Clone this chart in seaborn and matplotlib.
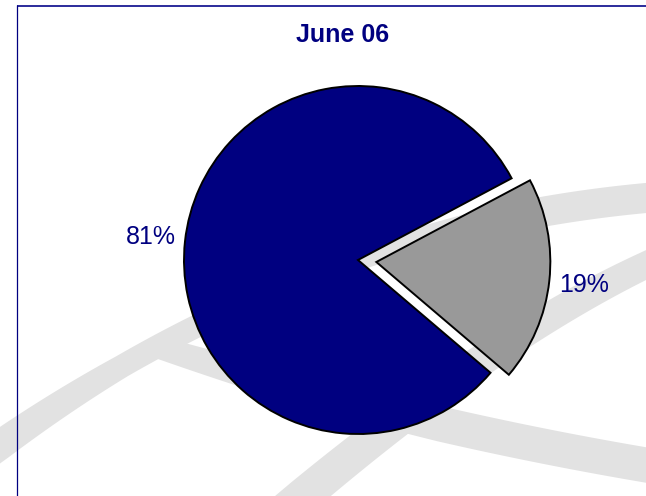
import numpy as np
import matplotlib
matplotlib.use("Agg")
import matplotlib.pyplot as plt
import seaborn as sns
from matplotlib.patches import Polygon

# ---- data ----
title = "June 06"
categories = ["Series 1", "Series 2"]
shares = [81, 19]
slice_colors = ["#000080", "#999999"]
explode = [0, 0.106]

sns.set_theme(style="white")
plt.rcParams["font.family"] = ["Liberation Sans", "DejaVu Sans"]

W, H = 646, 496
fig = plt.figure(figsize=(W / 100, H / 100), dpi=100, facecolor="white")

# ---- decorative background (watermark bands + frame), pixel coordinates ----
bg = fig.add_axes([0, 0, 1, 1], zorder=0)
bg.set_xlim(0, W)
bg.set_ylim(H, 0)
bg.axis("off")
band_color = "#e2e2e2"


def band(p0, p1, p2, t0, t1, wt, wv):
    p0, p1, p2 = map(np.asarray, (p0, p1, p2))
    t = np.linspace(t0, t1, 200)[:, None]
    c = (1 - t) ** 2 * p0 + 2 * t * (1 - t) * p1 + t ** 2 * p2
    d = 2 * (1 - t) * (p1 - p0) + 2 * t * (p2 - p1)
    d = d / np.linalg.norm(d, axis=1, keepdims=True)
    n = np.column_stack([-d[:, 1], d[:, 0]])
    w = np.interp(t[:, 0], wt, wv)[:, None] / 2
    poly = np.vstack([c + n * w, (c - n * w)[::-1]])
    bg.add_patch(Polygon(poly, closed=True, facecolor=band_color, edgecolor="none"))


band((0, 445), (300, 230), (646, 198), -0.08, 1.06, [0, 0.2, 0.6, 0.85, 1], [30, 23, 23, 30, 30])
band((240, 372), (440, 430), (646, 465), -0.22, 1.06, [-0.22, 0, 0.5, 1], [22, 28, 35, 35])
band((303, 496), (492, 338), (646, 265), -0.12, 1.1, [0, 1], [36, 27])

bg.plot([17.3, W + 5], [5.8, 5.8], color="#2b2b9b", lw=1.4, solid_capstyle="butt")
bg.plot([17.3, 17.3], [5.2, H + 5], color="#000080", lw=0.9, solid_capstyle="butt")

# ---- pie ----
cx, cy, R = 358, 260, 174
ax = fig.add_axes([(cx - R) / W, (H - cy - R) / H, 2 * R / W, 2 * R / H], zorder=2)
wedges, texts, autotexts = ax.pie(
    shares,
    colors=slice_colors,
    startangle=28.0,
    counterclock=True,
    explode=explode,
    autopct="%1.0f%%",
    pctdistance=1.2,
    wedgeprops=dict(edgecolor="black", linewidth=1.4),
    textprops=dict(color="#000080", fontsize=18),
)
ax.set_xlim(-1, 1)
ax.set_ylim(-1, 1)
ax.set_aspect("auto")
ax.axis("off")
for w in wedges:
    w.set_clip_on(False)
for t in autotexts:
    t.set_clip_on(False)

fig.text(342.5 / W, 1 - 35.5 / H, title, ha="center", va="center",
         fontsize=18, fontweight="bold", color="#000080")

fig.savefig("out.png", dpi=100, facecolor="white")
